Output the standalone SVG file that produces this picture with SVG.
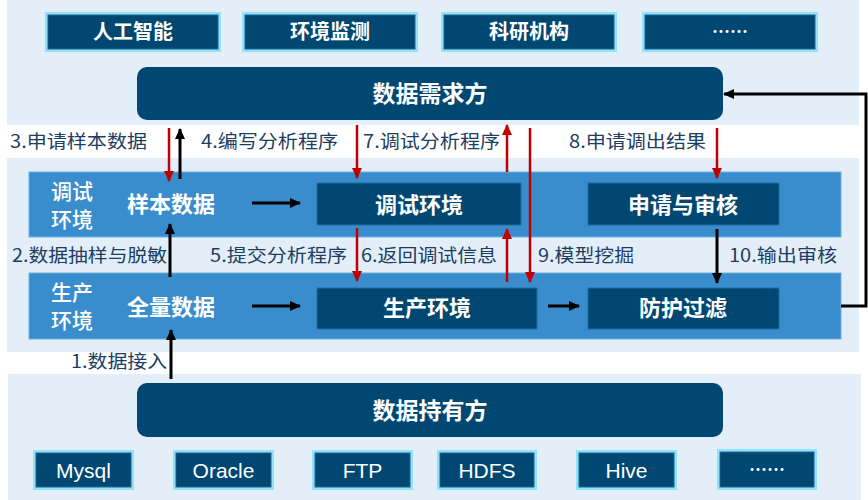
<svg xmlns="http://www.w3.org/2000/svg" width="868" height="500" viewBox="0 0 868 500">
<style>
.bg{fill:#e3eef8}
.band{fill:#3a8dcc;stroke:#6fb0e0;stroke-width:1}
.navy{fill:#004872}
.box{fill:#004872;stroke:#1f6d9e;stroke-width:1}
.tagout{fill:#8fe3fa}
.tagin{fill:#004872;stroke:#24628c;stroke-width:1}
.t{font-family:"Noto Sans CJK SC","Noto Sans",sans-serif;fill:#fff;text-anchor:middle;dominant-baseline:central}
.b{font-weight:bold}
.m{font-weight:500}
.lat{font-family:"Liberation Sans",Arial,sans-serif;fill:#fff;text-anchor:middle;dominant-baseline:central;font-size:21px}
.lbl{font-family:"Noto Sans CJK SC","Noto Sans",sans-serif;fill:#1d3d62;font-size:18px;dominant-baseline:central}
.k{stroke:#000;stroke-width:3;fill:none}
.r{stroke:#c00000;stroke-width:2.5;fill:none}
</style>
<defs>
<marker id="ak" markerUnits="userSpaceOnUse" markerWidth="11" markerHeight="10" refX="10" refY="5" orient="auto"><path d="M0,0 L11,5 L0,10 Z" fill="#000"/></marker>
<marker id="ar" markerUnits="userSpaceOnUse" markerWidth="11" markerHeight="10" refX="10" refY="5" orient="auto"><path d="M0,0 L11,5 L0,10 Z" fill="#c00000"/></marker>
</defs>
<rect width="868" height="500" fill="#fff"/>
<rect class="bg" x="7" y="0" width="852" height="125"/>
<rect class="bg" x="7" y="158" width="852" height="194"/>
<rect class="bg" x="8" y="374" width="853" height="126"/>
<rect class="band" x="29" y="172" width="812" height="65"/>
<rect class="band" x="29" y="273" width="812" height="66"/>

<g id="app-ai"><rect class="tagout" x="45" y="12" width="176" height="40"/><rect class="tagin" x="48" y="15" width="170" height="34"/><text class="t b" x="133" y="30.5" font-size="20">人工智能</text></g>
<g id="app-env"><rect class="tagout" x="242" y="12" width="176" height="40"/><rect class="tagin" x="245" y="15" width="170" height="34"/><text class="t b" x="330" y="30.5" font-size="20">环境监测</text></g>
<g id="app-sci"><rect class="tagout" x="441" y="12" width="176" height="40"/><rect class="tagin" x="444" y="15" width="170" height="34"/><text class="t b" x="529" y="30.5" font-size="20">科研机构</text></g>
<g id="app-more"><rect class="tagout" x="642" y="12" width="176" height="40"/><rect class="tagin" x="645" y="15" width="170" height="34"/><text class="t b" x="730" y="30" font-size="18">……</text></g>

<g id="demand"><rect class="navy" x="137" y="67" width="586" height="53" rx="10"/><text class="t b" x="430" y="92" font-size="23">数据需求方</text></g>

<g id="debug-label"><text class="t m" x="72" y="190" font-size="21">调试</text><text class="t m" x="72" y="218" font-size="21">环境</text></g>
<g id="sample"><text class="t b" x="171" y="201.5" font-size="22">样本数据</text></g>
<g id="debug-env"><rect class="box" x="317" y="183" width="204" height="42"/><text class="t b" x="419" y="202.5" font-size="22">调试环境</text></g>
<g id="apply"><rect class="box" x="588" y="183" width="191" height="42"/><text class="t b" x="683" y="202.5" font-size="22">申请与审核</text></g>

<g id="prod-label"><text class="t m" x="72" y="291" font-size="21">生产</text><text class="t m" x="72" y="319" font-size="21">环境</text></g>
<g id="full"><text class="t b" x="171" y="304.5" font-size="22">全量数据</text></g>
<g id="prod-env"><rect class="box" x="317" y="288" width="220" height="41"/><text class="t b" x="427" y="306" font-size="22">生产环境</text></g>
<g id="filter"><rect class="box" x="588" y="288" width="191" height="41"/><text class="t b" x="683" y="306" font-size="22">防护过滤</text></g>

<g id="holder"><rect class="navy" x="137" y="383" width="586" height="54" rx="10"/><text class="t b" x="430" y="408.5" font-size="23">数据持有方</text></g>

<g id="src-mysql"><rect class="tagout" x="33" y="450" width="101" height="40"/><rect class="tagin" x="36" y="453" width="95" height="34"/><text class="lat" x="83.5" y="470">Mysql</text></g>
<g id="src-oracle"><rect class="tagout" x="173" y="450" width="101" height="40"/><rect class="tagin" x="176" y="453" width="95" height="34"/><text class="lat" x="223.5" y="470">Oracle</text></g>
<g id="src-ftp"><rect class="tagout" x="312" y="450" width="101" height="40"/><rect class="tagin" x="315" y="453" width="95" height="34"/><text class="lat" x="362.5" y="470">FTP</text></g>
<g id="src-hdfs"><rect class="tagout" x="437" y="450" width="100" height="40"/><rect class="tagin" x="440" y="453" width="94" height="34"/><text class="lat" x="487" y="470">HDFS</text></g>
<g id="src-hive"><rect class="tagout" x="576" y="450" width="101" height="40"/><rect class="tagin" x="579" y="453" width="95" height="34"/><text class="lat" x="626.5" y="470">Hive</text></g>
<g id="src-more"><rect class="tagout" x="717" y="449" width="100" height="41"/><rect class="tagin" x="720" y="452" width="94" height="35"/><text class="t b" x="767" y="467.5" font-size="18">……</text></g>

<g id="connectors">
<line class="r" x1="169" y1="128" x2="169" y2="181" marker-end="url(#ar)"/>
<line class="k" x1="180" y1="179" x2="180" y2="129" marker-end="url(#ak)"/>
<line class="r" x1="357" y1="125" x2="357" y2="178" marker-end="url(#ar)"/>
<line class="r" x1="507" y1="172" x2="507" y2="125" marker-end="url(#ar)"/>
<line class="r" x1="530" y1="128" x2="530" y2="282" marker-end="url(#ar)"/>
<line class="r" x1="717" y1="128" x2="717" y2="178" marker-end="url(#ar)"/>
<line class="k" x1="717" y1="229" x2="717" y2="283" marker-end="url(#ak)"/>
<line class="r" x1="507" y1="282" x2="507" y2="229" marker-end="url(#ar)"/>
<line class="r" x1="357" y1="228" x2="357" y2="281" marker-end="url(#ar)"/>
<line class="k" x1="170" y1="277" x2="170" y2="224" marker-end="url(#ak)"/>
<line class="k" x1="171" y1="379" x2="171" y2="330" marker-end="url(#ak)"/>
<line class="k" x1="252" y1="203" x2="300" y2="203" marker-end="url(#ak)"/>
<line class="k" x1="252" y1="306" x2="300" y2="306" marker-end="url(#ak)"/>
<line class="k" x1="548" y1="306" x2="579" y2="306" marker-end="url(#ak)"/>
<polyline class="k" points="841,306 866,306 866,94 724,94" marker-end="url(#ak)"/>
<text class="lbl" x="10" y="140" textLength="137" lengthAdjust="spacingAndGlyphs">3.申请样本数据</text>
<text class="lbl" x="201" y="140" textLength="137" lengthAdjust="spacingAndGlyphs">4.编写分析程序</text>
<text class="lbl" x="363" y="140" textLength="137" lengthAdjust="spacingAndGlyphs">7.调试分析程序</text>
<text class="lbl" x="569" y="140" textLength="137" lengthAdjust="spacingAndGlyphs">8.申请调出结果</text>
<text class="lbl" x="12" y="254" textLength="155" lengthAdjust="spacingAndGlyphs">2.数据抽样与脱敏</text>
<text class="lbl" x="210" y="254" textLength="137" lengthAdjust="spacingAndGlyphs">5.提交分析程序</text>
<text class="lbl" x="361" y="254" textLength="136" lengthAdjust="spacingAndGlyphs">6.返回调试信息</text>
<text class="lbl" x="538" y="254" textLength="96" lengthAdjust="spacingAndGlyphs">9.模型挖掘</text>
<text class="lbl" x="729" y="254" textLength="108" lengthAdjust="spacingAndGlyphs">10.输出审核</text>
<text class="lbl" x="71" y="360" textLength="96" lengthAdjust="spacingAndGlyphs">1.数据接入</text>
</g>
</svg>
